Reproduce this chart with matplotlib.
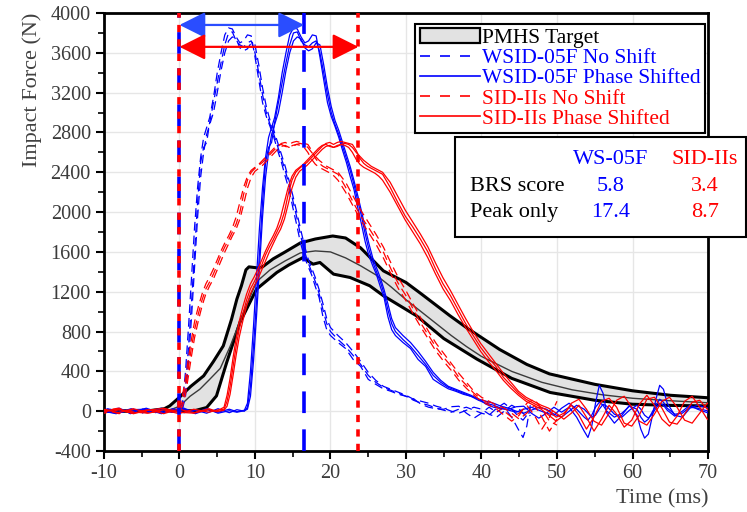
import numpy as np
import matplotlib
matplotlib.use('Agg')
import matplotlib.pyplot as plt
from matplotlib.patches import Patch, Rectangle
from matplotlib.lines import Line2D
from matplotlib.ticker import MultipleLocator

plt.rcParams['font.family'] = ['Liberation Serif', 'DejaVu Serif']
plt.rcParams['axes.unicode_minus'] = False

# PMHS target corridor (upper / lower bound and mean), time in ms, force in N
pmhs_up_t = [-10, -4, -2, -1.3, 0, 1.5, 3.2, 4.5, 5.8, 6.9, 7.6, 8.2, 8.8, 9.2, 10.3, 11, 12.4, 14, 16, 18,
             20.3, 22, 24, 27, 30, 32, 35.8, 38, 42.4, 46, 49, 55, 60, 65, 70]
pmhs_up_f = [0, 5, 25, 53, 140, 250, 355, 500, 656, 925, 1126, 1260, 1420, 1450, 1440, 1450, 1530, 1600, 1690, 1730,
             1760, 1740, 1640, 1410, 1293, 1180, 960, 840, 620, 470, 375, 270, 205, 160, 135]
pmhs_lo_t = [-10, 2, 3.6, 4.9, 6.25, 8, 10.2, 12.9, 14.5, 16.4, 17.2, 17.7, 18.6, 20.4, 22.6, 25.2, 27,
             31.4, 35, 39.4, 44, 49.1, 55, 60, 65, 70]
pmhs_lo_f = [0, 5, 37, 154, 489, 891, 1226, 1394, 1470, 1545, 1500, 1477, 1494, 1377, 1343, 1260, 1160,
             958, 730, 523, 330, 188, 110, 70, 58, 53]
pmhs_mean_t = [-10, -2, -1, 0, 1.4, 2.7, 4, 5.4, 6.7, 8.4, 10.2, 12, 14, 16, 18, 20, 22, 24, 26, 28, 30,
               32, 34, 36, 38, 40, 44, 48, 52, 56, 60, 65, 70]
pmhs_mean_f = [0, 5, 20, 50, 150, 221, 320, 430, 650, 980, 1300, 1420, 1510, 1590, 1610, 1600, 1540, 1460, 1370, 1250, 1120,
               1000, 880, 760, 650, 550, 400, 290, 215, 165, 130, 105, 85]

# WSID-05F tests, unshifted time base
ws_shift = 8.6
ws_t = [-19, -17, -15, -13, -11, -9.5, -8, -6.5, -5, -3.5, -2, -1, 0,
        0.4, 0.8, 1.2, 1.6, 2.0, 2.4, 2.8, 3.2, 3.6, 4.0,
        4.5, 5.0, 5.5, 6.0, 6.5, 7.0, 7.5, 8.0, 8.5, 9.0, 9.5, 10.0, 10.5, 11.0, 11.5, 12.0, 12.5, 13.0,
        13.5, 14.0, 14.5, 15.0, 15.5, 16.0, 16.5, 17.0, 17.5, 18.0, 18.5, 19.0, 19.5, 20.0,
        21, 22, 23, 24, 25, 26, 27, 28, 29, 30, 31, 32, 33, 34, 35, 36, 37, 38, 39, 40, 41, 42, 43, 44, 45,
        45.5, 46, 46.5, 47, 47.5, 48, 49, 50, 51, 52,
        52.5, 53, 53.5, 54, 54.5, 55, 55.5, 56, 57, 58, 59, 60, 61.5]
ws_1 = [10, -20, 25, -15, 30, -10, 20, -25, 15, -10, 20, -5, 10,
        80, 400, 850, 1350, 1850, 2250, 2550, 2750, 2850, 2950,
        3150, 3400, 3600, 3780, 3850, 3840, 3760, 3700, 3720, 3780, 3770, 3560, 3330, 3100, 2960, 2860, 2750, 2620,
        2500, 2360, 2230, 2050, 1880, 1700, 1560, 1460, 1370, 1250, 1140, 950, 820, 760,
        690, 630, 520, 450, 320, 270, 225, 200, 170, 150, 125, 70, 40, 25, 20, 45, 50, -20, -70, -20, 40, -10, 40, -60, -200,
        -264, -150, 80, 260, 180, -20, -120, -40, 60, -40,
        -180, -270, -230, -60, 120, 260, 220, 80, -40, -60, 30, 60, 30]
ws_2 = [-15, 20, -10, 30, -20, 25, -15, 10, -20, 25, -15, 15, 0,
        40, 250, 650, 1100, 1600, 2100, 2500, 2650, 2700, 2900,
        3100, 3300, 3500, 3680, 3800, 3810, 3720, 3680, 3660, 3700, 3720, 3600, 3400, 3180, 3000, 2880, 2780, 2660,
        2540, 2420, 2280, 2120, 1960, 1780, 1620, 1500, 1400, 1300, 1180, 1020, 880, 800,
        720, 650, 560, 470, 360, 290, 240, 210, 180, 150, 110, 80, 60, 30, 10, -10, 20, 40, 10, -20, -40, 30, 80, 20, -60,
        -90, -40, 40, 90, 60, 0, -60, -20, 50, 20,
        -60, -110, -80, -10, 60, 120, 90, 30, -30, -20, 40, 30, 0]
ws_3 = [5, -25, 15, 20, -25, 15, 30, -15, 25, -20, 5, -10, 5,
        20, 150, 500, 950, 1450, 1950, 2350, 2600, 2780, 2880,
        3000, 3200, 3420, 3600, 3720, 3760, 3740, 3650, 3620, 3640, 3700, 3680, 3480, 3250, 3060, 2920, 2820, 2700,
        2580, 2460, 2320, 2170, 2010, 1840, 1680, 1540, 1440, 1340, 1220, 1080, 930, 840,
        760, 690, 600, 500, 390, 310, 250, 220, 190, 160, 120, 100, 80, 50, 30, 0, -20, 10, 40, 20, -30, -60, 0, 60, 20,
        -20, -60, -40, 20, 70, 50, -30, -60, 10, 60,
        20, -40, -70, -30, 30, 80, 60, 10, -50, 0, 60, 20, -20]

# SID-IIs tests, unshifted time base
sid_shift = 5.9
sid_t = [-16, -14, -12, -10, -8, -6, -4, -2, -1, 0,
         0.4, 0.8, 1.2, 1.6, 2.0,
         2.5, 3.0, 3.5, 4.0, 4.5, 5.0, 5.5, 6.0, 6.5, 7.0, 7.5, 8.0, 8.5, 9.0, 9.5, 10.0, 10.5, 11.0, 11.5,
         12.0, 12.5, 13.0, 13.5, 14.0, 14.5, 15.0, 15.5, 16.0, 16.5, 17.0, 17.5, 18.0, 18.5, 19.0, 19.5,
         20.0, 20.5, 21.0,
         22, 23, 24, 25, 26, 27, 28, 29, 30, 31, 32, 33, 34, 35, 36, 37, 38, 39, 40, 41, 42, 43,
         44, 45, 46, 47, 48, 49, 50, 51, 52, 53, 54, 55, 56, 57, 58, 59, 60, 61, 62, 63, 64, 65]
sid_1 = [20, -15, 25, -20, 15, -25, 20, -10, 10, 20,
         100, 250, 450, 650, 820,
         980, 1120, 1230, 1300, 1380, 1470, 1570, 1650, 1720, 1800, 1880, 2000, 2180, 2320, 2400, 2440, 2470, 2500, 2540,
         2580, 2620, 2660, 2690, 2700, 2680, 2700, 2710, 2700, 2690, 2680, 2620, 2540, 2490, 2460, 2440,
         2420, 2400, 2380,
         2250, 2100, 1960, 1850, 1730, 1600, 1430, 1280, 1160, 1020, 880, 760, 640, 540, 450, 340, 260, 180, 120, 80, 40, 0,
         -60, -20, 60, -40, -180, -60, 100, 130, 40, -120, -150, -40, 120, 140, 30, -110, -130, -30, 90, 110, 20, -60]
sid_2 = [-10, 25, -20, 15, -25, 20, -15, 25, 0, 40,
         160, 330, 540, 730, 900,
         1050, 1180, 1280, 1350, 1430, 1520, 1610, 1690, 1760, 1840, 1950, 2100, 2250, 2360, 2420, 2450, 2480, 2520, 2560,
         2600, 2640, 2670, 2680, 2660, 2650, 2670, 2680, 2670, 2650, 2600, 2530, 2480, 2450, 2430, 2410,
         2390, 2360, 2320,
         2200, 2060, 1920, 1800, 1680, 1540, 1380, 1230, 1110, 970, 840, 720, 600, 500, 410, 310, 230, 160, 100, 60, 20, -40,
         -100, -40, 80, 120, 20, -100, -140, -20, 110, 150, 40, -100, -140, -30, 100, 140, 40, -90, -120, -20, 80, 60]
sid_3 = [5, 20, -25, 10, 30, -10, -20, 15, -5, 10,
         50, 170, 360, 560, 740,
         910, 1060, 1180, 1260, 1330, 1420, 1510, 1600, 1680, 1760, 1830, 1930, 2080, 2240, 2350, 2410, 2440, 2470, 2510,
         2550, 2590, 2630, 2660, 2670, 2650, 2660, 2680, 2690, 2680, 2650, 2600, 2560, 2520, 2490, 2460,
         2440, 2420, 2400,
         2300, 2160, 2020, 1900, 1780, 1650, 1490, 1340, 1210, 1070, 930, 800, 680, 580, 480, 380, 290, 200, 140, 100, 60, 30,
         -20, -80, -20, 60, -60, -200, -80, 60, -30, -160, -90, 70, 160, 60, -80, -150, -50, 100, 150, 40, -80, -120]

# last recorded sample of the unshifted traces
ws_end = 46.5
sid_end = 50.0

# time markers and arrow levels
ws_peak_t = 16.5
sid_peak_t = 23.7
ws_arrow_f = 3880
sid_arrow_f = 3660

table_cols = ['WS-05F', 'SID-IIs']
table_rows = ['BRS score', 'Peak only']
table_vals = [['5.8', '3.4'], ['17.4', '8.7']]

BLUE = '#0000ff'
RED = '#ff0000'

fig = plt.figure(figsize=(7.47, 5.12), dpi=100)
ax = fig.add_axes([0.1392, 0.1191, 0.8086, 0.8555])

# corridor
up_t, up_f = np.array(pmhs_up_t), np.array(pmhs_up_f)
lo_t, lo_f = np.array(pmhs_lo_t), np.array(pmhs_lo_f)
ax.fill(np.r_[up_t, lo_t[::-1]], np.r_[up_f, lo_f[::-1]], color='#e2e2e2', lw=0, zorder=2)
ax.plot(up_t, up_f, color='black', lw=2.2, zorder=3)
ax.plot(lo_t, lo_f, color='black', lw=2.2, zorder=3)
ax.plot(pmhs_mean_t, pmhs_mean_f, color='#3a3a3a', lw=1.0, zorder=3)

wt = np.array(ws_t)
st = np.array(sid_t)
wm = wt <= ws_end
sm = st <= sid_end
for f in (ws_1, ws_2, ws_3):
    f = np.array(f)
    ax.plot(wt[wm], f[wm], color=BLUE, lw=0.9, dashes=(7, 4), zorder=4)
    ax.plot(wt + ws_shift, f, color=BLUE, lw=0.9, zorder=4)
for f in (sid_1, sid_2, sid_3):
    f = np.array(f)
    ax.plot(st[sm], f[sm], color=RED, lw=0.9, dashes=(7, 4), zorder=4)
    ax.plot(st + sid_shift, f, color=RED, lw=0.9, zorder=4)

# alignment markers
ax.axvline(0, color=BLUE, lw=2.6, dashes=(6, 4), zorder=5)
ax.axvline(0, color=RED, lw=2.6, dashes=(2, 2), zorder=5)
ax.axvline(ws_peak_t, color=BLUE, lw=2.6, dashes=(6, 4.5), zorder=5)
ax.axvline(sid_peak_t, color=RED, lw=2.6, dashes=(2, 2), zorder=5)

ax.annotate('', xy=(ws_peak_t, ws_arrow_f), xytext=(0, ws_arrow_f),
            arrowprops=dict(arrowstyle='<|-|>,head_length=0.8,head_width=0.4', color='#2a4dff',
                            lw=1.6, mutation_scale=20, shrinkA=0, shrinkB=0), zorder=6)
ax.annotate('', xy=(sid_peak_t, sid_arrow_f), xytext=(0, sid_arrow_f),
            arrowprops=dict(arrowstyle='<|-|>,head_length=0.8,head_width=0.4', color=RED,
                            lw=1.6, mutation_scale=20, shrinkA=0, shrinkB=0), zorder=6)

ax.set_xlim(-10, 70)
ax.set_ylim(-400, 4000)
ax.xaxis.set_major_locator(MultipleLocator(10))
ax.xaxis.set_minor_locator(MultipleLocator(5))
ax.yaxis.set_major_locator(MultipleLocator(400))
ax.yaxis.set_minor_locator(MultipleLocator(200))
ax.grid(True, which='major', color='#e6e6e6', lw=1.0, zorder=0)
ax.set_axisbelow(True)
ax.tick_params(which='major', direction='out', length=6, width=1.5, labelsize=14.5, labelcolor='#3c3c3c')
ax.tick_params(which='minor', direction='out', length=4, width=1.2)
for sp in ax.spines.values():
    sp.set_linewidth(2.0)
ax.set_ylabel('Impact Force (N)', fontsize=16, color='#404040', loc='top', labelpad=6)
ax.set_xlabel('Time (ms)', fontsize=16, color='#404040', loc='right', labelpad=4)

handles = [Patch(facecolor='#e2e2e2', edgecolor='black', lw=1.6),
           Line2D([], [], color=BLUE, lw=1.2, dashes=(6, 6)),
           Line2D([], [], color=BLUE, lw=1.2),
           Line2D([], [], color=RED, lw=1.2, dashes=(6, 6)),
           Line2D([], [], color=RED, lw=1.2)]
labels = ['PMHS Target', 'WSID-05F No Shift', 'WSID-05F Phase Shifted',
          'SID-IIs No Shift', 'SID-IIs Phase Shifted']
leg = ax.legend(handles, labels, loc='upper right', bbox_to_anchor=(0.995, 0.975), borderaxespad=0,
                fontsize=15.5, frameon=True, fancybox=False, framealpha=1, edgecolor='black',
                handlelength=2.8, handletextpad=0.1, labelspacing=0.0, borderpad=0.2)
leg.get_frame().set_linewidth(1.5)
leg.set_zorder(10)
for txt, c in zip(leg.get_texts(), ['black', BLUE, BLUE, RED, RED]):
    txt.set_color(c)

# score table
fig.add_artist(Rectangle((0.609, 0.537), 0.39, 0.195, transform=fig.transFigure,
                         facecolor='white', edgecolor='black', lw=1.5, zorder=8))
col_x = [0.817, 0.944]
col_c = [BLUE, RED]
for name, x, c in zip(table_cols, col_x, col_c):
    fig.text(x, 0.6875, name, ha='center', va='center', fontsize=16, color=c, zorder=9)
for row, y, vals in zip(table_rows, [0.635, 0.584], table_vals):
    fig.text(0.629, y, row, ha='left', va='center', fontsize=16, color='black', zorder=9)
    for v, x, c in zip(vals, col_x, col_c):
        fig.text(x, y, v, ha='center', va='center', fontsize=16, color=c, zorder=9)

fig.savefig('out.png', dpi=100)
